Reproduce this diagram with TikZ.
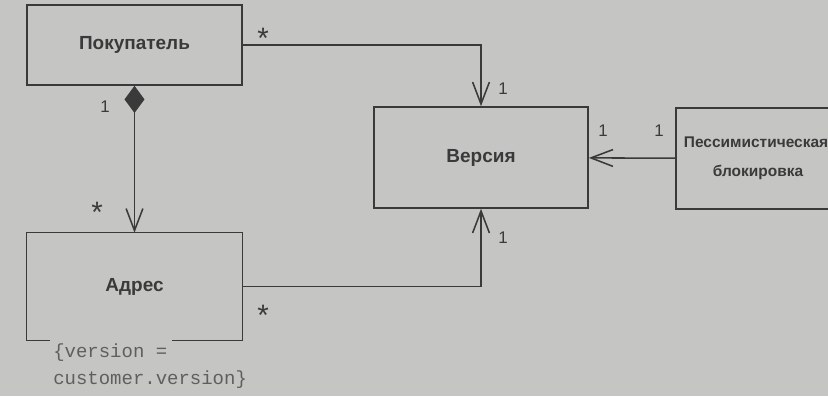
\documentclass[tikz,border=0pt]{standalone}
\usepackage{fontspec}
\setmainfont{Liberation Sans}
\setmonofont{Liberation Mono}
\usetikzlibrary{arrows.meta,positioning}
\definecolor{paper}{RGB}{197,197,195}
\definecolor{ink}{RGB}{58,58,58}
\definecolor{faint}{RGB}{95,95,95}

\begin{document}
\begin{tikzpicture}[x=0.025cm,y=-0.025cm,
  cls/.style={rectangle,draw=ink,line width=1.1pt,inner sep=0pt,text=ink,
    font=\fontsize{13.5}{15}\selectfont\bfseries},
  boxline/.style={draw=ink,line width=1.1pt},
  assoc/.style={draw=ink,line width=1.1pt,
    -{Straight Barb[length=0.55cm,width=0.42cm,line width=1.1pt]}},
  comp/.style={assoc,{Diamond[length=0.68cm,width=0.5cm]}-{Straight Barb[length=0.55cm,width=0.42cm,line width=1.1pt]}},
  mult/.style={inner sep=0pt,text=ink,font=\fontsize{12}{12}\selectfont},
  many/.style={inner sep=0pt,text=ink,font=\fontsize{21}{21}\selectfont}]
  \fill[paper] (0,0) rectangle (828,396);
  \useasboundingbox (0,0) rectangle (828,396);

  \node[cls,minimum width=5.375cm,minimum height=2cm] (cust) at (134.5,45) {Покупатель};
  \node[minimum width=5.375cm,minimum height=2.675cm,inner sep=0pt,text=ink,
    font=\fontsize{13.5}{15}\selectfont\bfseries] (addr) at (134.5,286.5) {Адрес};
  \draw[boxline] ([xshift=0.575cm]addr.south west) -- (addr.south west) -- (addr.north west)
    -- (addr.north east) -- (addr.south east) -- ([xshift=-1.75cm]addr.south east);
  \node[cls,minimum width=5.35cm,minimum height=2.525cm] (ver) at (481,157.5) {Версия};
  \node[cls,minimum width=4.1cm,minimum height=2.525cm,align=center,
    font=\fontsize{11}{21}\selectfont\bfseries] (lock) at (758,158.5)
    {\hspace*{-0.1cm}Пессимистическая\\блокировка};
  \node[anchor=west,align=left,inner sep=0pt,text=faint,
    font=\ttfamily\fontsize{13.5}{19}\selectfont] (cons) at (53,366)
    {\{version =\\customer.version\}};

  % associations
  \draw[comp] (cust) -- (addr);
  \draw[assoc] (cust.east) -| (ver.north);
  \draw[assoc] (addr.east) -| (ver.south);
  \draw[assoc] (lock) -- (ver);

  % multiplicities
  \node[many] (m1) at (263,38) {*};
  \node[mult] (m2) at (503,89) {1};
  \node[mult] (m3) at (105,107) {1};
  \node[many] (m4) at (97,212) {*};
  \node[many] (m5) at (263,315) {*};
  \node[mult] (m6) at (503,238) {1};
  \node[mult] (m7) at (603,131) {1};
  \node[mult] (m8) at (659,131) {1};
\end{tikzpicture}
\end{document}
